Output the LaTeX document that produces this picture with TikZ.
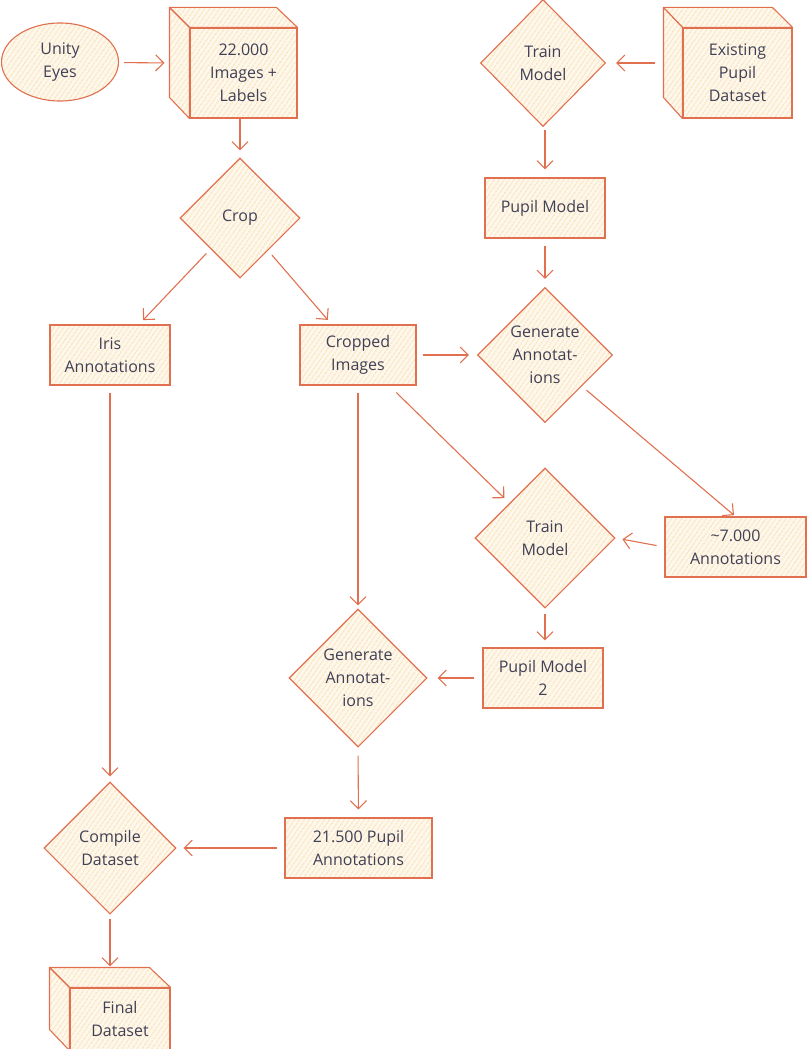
\documentclass[tikz,border=0pt]{standalone}
\usepackage{fontspec}
\setmainfont{Open Sans}
\usetikzlibrary{shapes.geometric,arrows.meta,patterns.meta,calc}
\definecolor{edgecol}{HTML}{E0704F}
\definecolor{hatchcol}{HTML}{F6CB86}
\definecolor{creamcol}{HTML}{FEF8EC}
\definecolor{inkcol}{HTML}{404055}
\tikzset{
  hatched/.style={preaction={fill=creamcol},pattern={Lines[angle=55,distance=4pt,line width=0.85pt]},pattern color=hatchcol},
  txt/.style={font=\fontsize{16}{23}\selectfont,text=inkcol,align=center,inner sep=0pt},
  shp/.style={hatched,draw=edgecol,line width=1.1pt,inner sep=0pt,txt},
  boxn/.style={shp,rectangle},
  dia/.style={shp,diamond},
  ell/.style={shp,ellipse},
  cubeside/.style={hatched,draw=edgecol,line width=1.1pt,line join=round},
  arr/.style={draw=edgecol,line width=1.1pt,shorten <=6pt,shorten >=6pt,-{Straight Barb[length=8pt,width=16pt]}}
}
\begin{document}
\begin{tikzpicture}[x=1pt,y=-1pt]
\useasboundingbox (0,0) rectangle (808,1049);
% nodes
\node[ell,minimum width=117pt,minimum height=78pt] (unity) at (60,62) {Unity\\Eyes};
\node[boxn,minimum width=107pt,minimum height=90pt] (imgs) at (243.5,73) {22.000\\Images +\\Labels};
\path[cubeside] (imgs.north west) -- ++(-20,-20) -- ++(107,0) -- (imgs.north east) -- cycle;
\path[cubeside] (imgs.north west) -- ++(-20,-20) -- ++(0,90) -- (imgs.south west) -- cycle;
\node[dia,minimum width=120pt,minimum height=120pt,label={[txt]center:Crop}] (crop) at (240,218) {};
\node[boxn,minimum width=120pt,minimum height=60pt] (iris) at (110,355) {Iris\\Annotations};
\node[boxn,minimum width=116pt,minimum height=60pt] (cropped) at (358,355) {Cropped\\Images};
\node[dia,minimum width=125pt,minimum height=127pt,label={[txt]center:Train\\Model}] (train1) at (543,63) {};
\node[boxn,minimum width=109pt,minimum height=90pt] (exist) at (737.5,73) {Existing\\Pupil\\Dataset};
\path[cubeside] (exist.north west) -- ++(-19,-20) -- ++(109,0) -- (exist.north east) -- cycle;
\path[cubeside] (exist.north west) -- ++(-19,-20) -- ++(0,90) -- (exist.south west) -- cycle;
\node[boxn,minimum width=120pt,minimum height=60pt] (pm1) at (545,208) {Pupil Model};
\node[dia,minimum width=135pt,minimum height=135pt,label={[txt]center:Generate\\Annotat-\\ions}] (gen1) at (545,355) {};
\node[dia,minimum width=140pt,minimum height=140pt,label={[txt]center:Train\\Model}] (train2) at (545,538) {};
\node[boxn,minimum width=141pt,minimum height=60pt] (ann7) at (735.5,547) {\textasciitilde7.000\\Annotations};
\node[boxn,minimum width=120pt,minimum height=60pt] (pm2) at (543,678) {Pupil Model\\2};
\node[dia,minimum width=138pt,minimum height=138pt,label={[txt]center:Generate\\Annotat-\\ions}] (gen2) at (358,678) {};
\node[boxn,minimum width=147pt,minimum height=60pt] (ann21) at (358.5,848) {21.500 Pupil\\Annotations};
\node[dia,minimum width=132pt,minimum height=132pt,label={[txt]center:Compile\\Dataset}] (comp) at (110,848) {};
\node[boxn,minimum width=100pt,minimum height=62pt] (final) at (120,1019) {Final\\Dataset};
\path[cubeside] (final.north west) -- ++(-20,-20) -- ++(100,0) -- (final.north east) -- cycle;
\path[cubeside] (final.north west) -- ++(-20,-20) -- ++(0,62) -- (final.south west) -- cycle;
% helper coordinates on cube outlines
\coordinate (imgsL) at ($(imgs.west)+(-20,-10)$);
\coordinate (existL) at ($(exist.west)+(-19,-10)$);
\coordinate (finalT) at ($(final.north)+(-10,-20)$);
% connectors
\draw[arr,shorten <=5pt,shorten >=5pt] (unity) -- (imgsL);
\draw[arr,shorten <=0pt,shorten >=7pt] (imgs.south -| crop) -- (crop.north);
\draw[arr] (crop) -- (iris);
\draw[arr] (crop) -- (cropped);
\draw[arr,shorten <=8pt,shorten >=10pt] (existL) -- (train1.east);
\draw[arr,shorten <=3pt,shorten >=8pt] (train1.south -| pm1) -- (pm1.north);
\draw[arr,shorten <=7pt,shorten >=8pt] (pm1.south) -- (gen1.north);
\draw[arr,shorten >=8pt] (cropped.east) -- (gen1.west);
\draw[arr,shorten >=2pt] (gen1) -- (ann7.north);
\draw[arr,shorten <=10pt,shorten >=7pt] (cropped) -- (train2);
\draw[arr,shorten <=8pt,shorten >=7pt] (ann7.west) -- (train2.east);
\draw[arr,shorten <=5pt,shorten >=7pt] (train2.south) -- (train2.south |- pm2.north);
\draw[arr,shorten <=8pt,shorten >=10pt] (pm2.west) -- (gen2.east);
\draw[arr,shorten <=7pt,shorten >=3pt] (cropped.south) -- (gen2.north);
\draw[arr,shorten <=8pt,shorten >=8pt] (gen2.south) -- (ann21.north);
\draw[arr,shorten <=7pt,shorten >=5pt] (iris.south) -- (comp.north);
\draw[arr,shorten <=7pt,shorten >=7pt] (ann21.west) -- (comp.east);
\draw[arr,shorten <=4pt,shorten >=1pt] (comp.south) -- (finalT);
\end{tikzpicture}
\end{document}
